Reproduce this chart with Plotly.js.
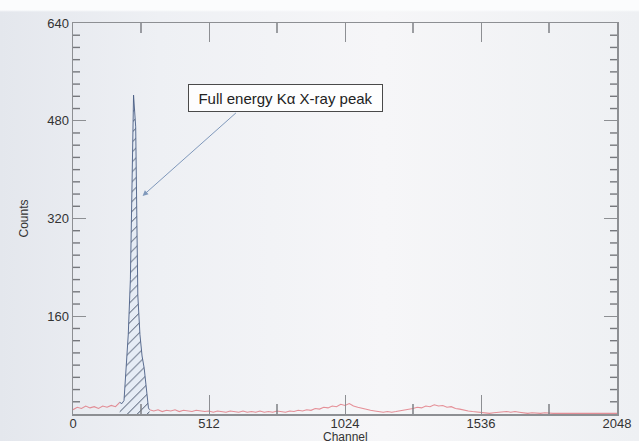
<!DOCTYPE html>
<html>
<head>
<meta charset="utf-8">
<script src="https://cdn.plot.ly/plotly-3.0.1.min.js"></script>
<style>
  html, body { margin: 0; padding: 0; }
  body {
    width: 639px; height: 441px; overflow: hidden;
    background: linear-gradient(180deg, #fbfcfd 0px, #fbfcfd 10px, rgba(0,0,0,0) 12px),
                linear-gradient(90deg, #e4e7ed 0%, #eef0f4 25%, #f6f6f8 60%, #eef0f3 100%);
  }
  #chart { width: 639px; height: 441px; }
</style>
</head>
<body>
<div id="chart"></div>
<script>
// Background spectrum, one value every 16 channels starting at channel 0
// (the Kα peak region is left empty here and drawn as its own hatched trace)
const bgStart = 0;
const bgStep = 16;
const bgCounts = [
  7, 11, 9, 13, 10, 12, 9, 13, 11, 14, 12, 19,
  null, null, null, null, null, null,
  7, 5, 7, 4, 6, 5, 7, 4, 6, 5, 4, 6, 5, 4,
  5, 3, 5, 4, 3, 5, 4, 3, 5, 3, 4, 3, 5, 3, 4, 3,
  5, 4, 3, 5, 4, 6, 5, 7, 6, 9, 8, 11, 10, 13, 12, 16,
  14, 17, 13, 11, 9, 7, 6, 5, 4, 3, 4, 3, 4, 5, 6, 8,
  9, 11, 10, 13, 12, 15, 13, 14, 11, 12, 9, 8, 6, 5, 4, 3,
  2, 2, 1, 2, 3, 3, 4, 3, 4, 3, 2, 1, 2, 1, 1, 2,
  1, 1, 1, 1, 2, 1, 1, 1, 1, 1, 2, 1, 1, 1, 1, 1,
  1
];

// Full energy Kα X-ray peak
const peakChannels = [176, 184, 192, 200, 208, 216, 224, 228, 236, 244, 252, 260, 268, 276, 284, 288];
const peakCounts   = [19, 17, 22, 70, 130, 220, 400, 522, 470, 195, 130, 95, 75, 45, 10, 7];

// Axis ticks: labelled every 512 channels / 160 counts, short marks in between
const xRange = [0, 2048], yRange = [0, 640];
const xTickVals = [0, 512, 1024, 1536, 2048];
const yTickVals = [160, 320, 480, 640];
const xMinorStep = 256, yMinorStep = 20;

const W = 639, H = 441;
const M = { l: 73, r: 22, t: 23, b: 27 };
const plotW = W - M.l - M.r, plotH = H - M.t - M.b;

const axisGray = '#8d8f93';
const minorGray = '#76787d';
const textColor = '#333333';
const fontFamily = 'Liberation Sans, Arial, sans-serif';
const tickFont = { family: fontFamily, size: 13, color: textColor };

// Short in-between tick marks on all four sides, as line segments on the
// axes' own scales; lengths are set in pixels and converted to axis units
const xPerPx = (xRange[1] - xRange[0]) / plotW;
const yPerPx = (yRange[1] - yRange[0]) / plotH;
const yMinorLen = 7 * xPerPx;
const xMinorLen = 10 * yPerPx;
const minorX = [], minorY = [];
for (let v = yMinorStep; v < yRange[1]; v += yMinorStep) {
  if (yTickVals.includes(v)) continue;
  minorX.push(xRange[0], xRange[0] + yMinorLen, null, xRange[1] - yMinorLen, xRange[1], null);
  minorY.push(v, v, null, v, v, null);
}
for (let c = xMinorStep; c < xRange[1]; c += xMinorStep) {
  if (xTickVals.includes(c)) continue;
  minorX.push(c, c, null, c, c, null);
  minorY.push(yRange[0], yRange[0] + xMinorLen, null, yRange[1] - xMinorLen, yRange[1], null);
}

const traces = [
  {
    type: 'scatter',
    mode: 'lines',
    x0: bgStart,
    dx: bgStep,
    y: bgCounts,
    line: { color: 'rgba(222, 100, 110, 0.7)', width: 1.1 },
    connectgaps: false,
    hoverinfo: 'skip',
    showlegend: false
  },
  {
    type: 'scatter',
    mode: 'lines',
    x: peakChannels,
    y: peakCounts,
    fill: 'tozeroy',
    fillcolor: 'rgba(230, 237, 246, 0.9)',
    fillpattern: { shape: '/', fgcolor: '#34405a', bgcolor: 'rgba(230, 237, 246, 0.9)', size: 7, solidity: 0.13 },
    line: { color: '#4a5d85', width: 0.9 },
    hoverinfo: 'skip',
    showlegend: false
  },
  {
    type: 'scatter',
    mode: 'lines',
    x: minorX,
    y: minorY,
    connectgaps: false,
    line: { color: minorGray, width: 1.4 },
    cliponaxis: false,
    hoverinfo: 'skip',
    showlegend: false
  }
];

// shared frame settings for both axes
const frame = {
  showline: true,
  linecolor: axisGray,
  linewidth: 1.5,
  mirror: 'ticks',
  showgrid: false,
  zeroline: false,
  ticks: 'inside',
  tickwidth: 1,
  tickcolor: axisGray,
  automargin: false,
  fixedrange: true
};

const layout = {
  width: W,
  height: H,
  margin: { l: M.l, r: M.r, t: M.t, b: M.b, pad: 0 },
  paper_bgcolor: 'rgba(0,0,0,0)',
  plot_bgcolor: 'rgba(0,0,0,0)',
  showlegend: false,
  xaxis: Object.assign({}, frame, {
    range: xRange,
    tickmode: 'array', tickvals: xTickVals,
    ticklen: 19,
    ticklabelstandoff: -3,
    tickfont: tickFont
  }),
  yaxis: Object.assign({}, frame, {
    range: yRange,
    tickmode: 'array', tickvals: yTickVals,
    ticklen: 13,
    tickfont: tickFont,
    title: { text: 'Counts', font: { family: fontFamily, size: 12, color: textColor }, standoff: 16 }
  }),
  annotations: [
    {
      // x-axis title, placed just below the channel labels
      xref: 'paper', yref: 'paper', x: 0.5, y: -0.058,
      xanchor: 'center', yanchor: 'middle',
      text: 'Channel', showarrow: false,
      font: { family: fontFamily, size: 12, color: textColor }
    },
    {
      // label box
      x: 801, y: 518, xref: 'x', yref: 'y',
      text: 'Full energy Kα X-ray peak',
      showarrow: false,
      font: { family: fontFamily, size: 15, color: '#222' },
      bgcolor: 'rgba(255,255,255,0.85)',
      bordercolor: '#4a4a4a',
      borderwidth: 1,
      borderpad: 1,
      width: 191,
      height: 24,
      align: 'center',
      valign: 'middle'
    },
    {
      // pointer from the label to the peak
      x: 262, y: 357, xref: 'x', yref: 'y',
      ax: 619, ay: 495, axref: 'x', ayref: 'y',
      text: '',
      showarrow: true,
      arrowhead: 2,
      arrowsize: 1.1,
      arrowwidth: 1,
      arrowcolor: '#7f98bb',
      standoff: 0,
      startstandoff: 0
    }
  ]
};

Plotly.newPlot('chart', traces, layout, { staticPlot: true, displayModeBar: false })
  .catch(function (err) { console.error(err); });
</script>
</body>
</html>
